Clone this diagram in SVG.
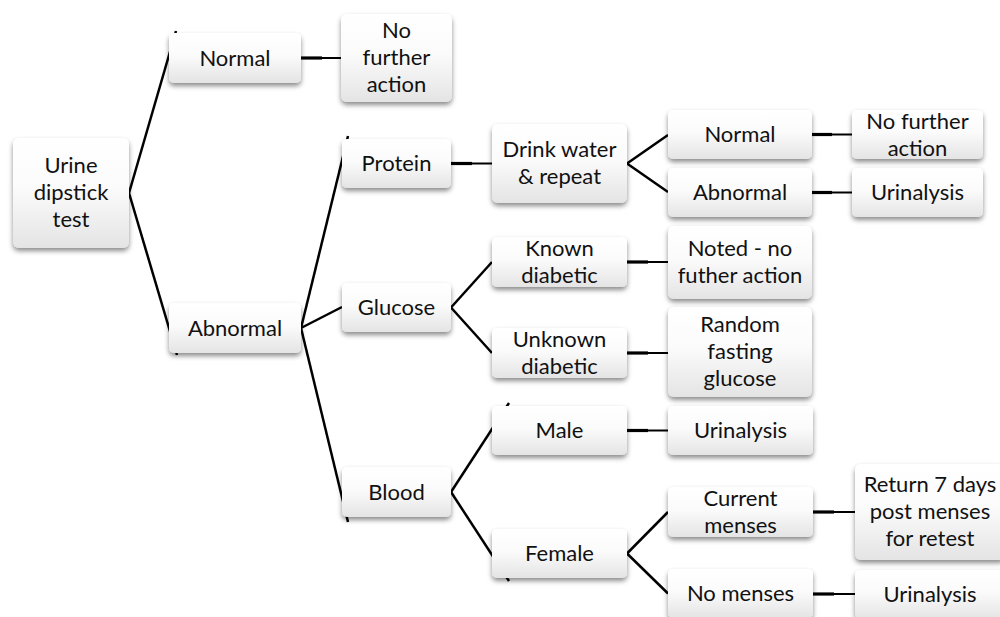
<svg xmlns="http://www.w3.org/2000/svg" width="1000" height="617" viewBox="0 0 1000 617">
<defs>
<linearGradient id="g" x1="0" y1="0" x2="0" y2="1">
<stop offset="0" stop-color="#ffffff"/>
<stop offset="0.45" stop-color="#fbfbfb"/>
<stop offset="1" stop-color="#e4e4e4"/>
</linearGradient>
<filter id="sh" x="-20%" y="-20%" width="140%" height="160%">
<feDropShadow dx="0" dy="3" stdDeviation="2.5" flood-color="#000" flood-opacity="0.45"/>
</filter>
</defs>
<style>
.b{fill:url(#g);filter:url(#sh)}
.t{font-family:Lato,"Open Sans","Liberation Sans",sans-serif;font-size:22px;fill:#111;text-anchor:middle}
.c{stroke:#000;stroke-width:2.5;fill:none;stroke-linecap:butt}
.h1{stroke:#000;stroke-width:3.2;fill:none}
.h2{stroke:#000;stroke-width:2;fill:none}
</style>
<rect width="1000" height="617" fill="#fff"/>
<g id="connectors">
<path class="c" d="M129,193 L176,31"/>
<path class="c" d="M129,193 L177,355"/>
<path class="h1" d="M301,58 L322,58"/><path class="h2" d="M321,58 L341,58"/>
<path class="c" d="M301,328 L348,136"/>
<path class="c" d="M301,328 L342,307"/>
<path class="c" d="M301,328 L348,522"/>
<path class="h1" d="M451,163.5 L472,163.5"/><path class="h2" d="M471,163.5 L492,163.5"/>
<path class="c" d="M451,307.5 L492,262"/>
<path class="c" d="M451,307.5 L492,353"/>
<path class="c" d="M451,492 L509,403"/>
<path class="c" d="M451,492 L509,581"/>
<path class="c" d="M627,163.5 L668,135"/>
<path class="c" d="M627,163.5 L668,192"/>
<path class="h1" d="M627,262 L648,262"/><path class="h2" d="M647,262 L668,262"/>
<path class="h1" d="M627,353 L648,353"/><path class="h2" d="M647,353 L668,353"/>
<path class="h1" d="M627,430.5 L648,430.5"/><path class="h2" d="M647,430.5 L668,430.5"/>
<path class="c" d="M627,553.5 L668,512"/>
<path class="c" d="M627,553.5 L668,593.5"/>
<path class="h1" d="M812,134.5 L832,134.5"/><path class="h2" d="M831,134.5 L852,134.5"/>
<path class="h1" d="M812,192.5 L832,192.5"/><path class="h2" d="M831,192.5 L852,192.5"/>
<path class="h1" d="M813,512 L834,512"/><path class="h2" d="M833,512 L855,512"/>
<path class="h1" d="M813,594 L834,594"/><path class="h2" d="M833,594 L855,594"/>
</g>
<g id="root"><rect class="b" x="13" y="138" width="116" height="110" rx="6"/>
<text class="t" x="71" y="173">Urine</text><text class="t" x="71" y="200">dipstick</text><text class="t" x="71" y="227">test</text></g>
<g id="normal"><rect class="b" x="169" y="33" width="132" height="50" rx="5"/>
<text class="t" x="235" y="65.5">Normal</text></g>
<g id="nfa1"><rect class="b" x="341" y="14" width="111" height="88" rx="6"/>
<text class="t" x="396.5" y="38">No</text><text class="t" x="396.5" y="65">further</text><text class="t" x="396.5" y="92">action</text></g>
<g id="abnormal"><rect class="b" x="169" y="303" width="132" height="50" rx="5"/>
<text class="t" x="235" y="335.5">Abnormal</text></g>
<g id="protein"><rect class="b" x="342" y="139" width="109" height="49" rx="5"/>
<text class="t" x="396.5" y="171">Protein</text></g>
<g id="glucose"><rect class="b" x="342" y="283" width="109" height="49" rx="5"/>
<text class="t" x="396.5" y="315">Glucose</text></g>
<g id="blood"><rect class="b" x="342" y="467" width="109" height="50" rx="5"/>
<text class="t" x="396.5" y="499.5">Blood</text></g>
<g id="drink"><rect class="b" x="492" y="124" width="135" height="79" rx="6"/>
<text class="t" x="559.5" y="157">Drink water</text><text class="t" x="559.5" y="184">&amp; repeat</text></g>
<g id="known"><rect class="b" x="492" y="237" width="135" height="50" rx="5"/>
<text class="t" x="559.5" y="256">Known</text><text class="t" x="559.5" y="283">diabetic</text></g>
<g id="unknown"><rect class="b" x="492" y="328" width="135" height="50" rx="5"/>
<text class="t" x="559.5" y="347">Unknown</text><text class="t" x="559.5" y="374">diabetic</text></g>
<g id="male"><rect class="b" x="492" y="406" width="135" height="49" rx="5"/>
<text class="t" x="559.5" y="438">Male</text></g>
<g id="female"><rect class="b" x="492" y="529" width="135" height="49" rx="5"/>
<text class="t" x="559.5" y="561">Female</text></g>
<g id="normal2"><rect class="b" x="668" y="110" width="144" height="49" rx="5"/>
<text class="t" x="740" y="142">Normal</text></g>
<g id="abnormal2"><rect class="b" x="668" y="168" width="144" height="49" rx="5"/>
<text class="t" x="740" y="200">Abnormal</text></g>
<g id="noted"><rect class="b" x="668" y="226" width="144" height="73" rx="6"/>
<text class="t" x="740" y="256">Noted - no</text><text class="t" x="740" y="283">futher action</text></g>
<g id="random"><rect class="b" x="668" y="307" width="144" height="90" rx="6"/>
<text class="t" x="740" y="332">Random</text><text class="t" x="740" y="359">fasting</text><text class="t" x="740" y="386">glucose</text></g>
<g id="uri-male"><rect class="b" x="668" y="406" width="145" height="49" rx="5"/>
<text class="t" x="740.5" y="438">Urinalysis</text></g>
<g id="current"><rect class="b" x="668" y="487" width="145" height="50" rx="5"/>
<text class="t" x="740.5" y="506">Current</text><text class="t" x="740.5" y="533">menses</text></g>
<g id="nomenses"><rect class="b" x="668" y="569" width="145" height="49" rx="5"/>
<text class="t" x="740.5" y="601">No menses</text></g>
<g id="nfa2"><rect class="b" x="852" y="110" width="131" height="49" rx="5"/>
<text class="t" x="917.5" y="129">No further</text><text class="t" x="917.5" y="156">action</text></g>
<g id="uri1"><rect class="b" x="852" y="168" width="131" height="49" rx="5"/>
<text class="t" x="917.5" y="200">Urinalysis</text></g>
<g id="return"><rect class="b" x="855" y="464" width="150" height="96" rx="6"/>
<text class="t" x="930" y="492">Return 7 days</text><text class="t" x="930" y="519">post menses</text><text class="t" x="930" y="546">for retest</text></g>
<g id="uri-last"><rect class="b" x="855" y="570" width="150" height="49" rx="5"/>
<text class="t" x="930" y="602">Urinalysis</text></g>
</svg>
